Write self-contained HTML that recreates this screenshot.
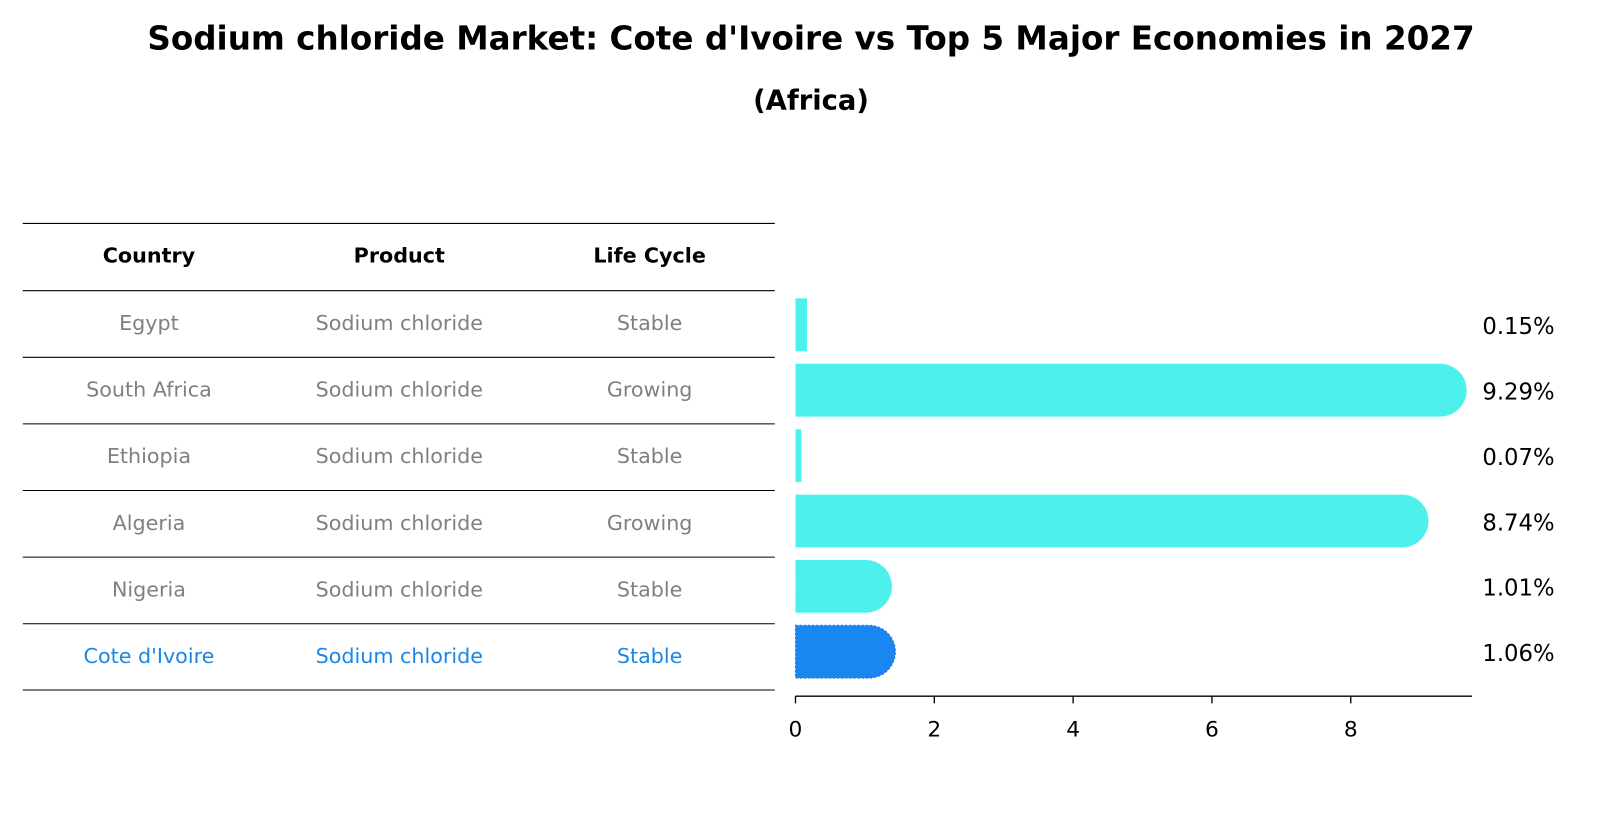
<!DOCTYPE html>
<html><head><meta charset="utf-8"><style>
body{margin:0;background:#fff;}
#wrap{position:relative;width:1622px;height:823px;overflow:hidden;}
</style></head><body>
<div id="wrap">
<svg id="svg" width="1622" height="823" viewBox="0 0 1568 795.6" preserveAspectRatio="none" style="position:absolute;left:0;top:0"></svg>
</div>
<script>
const countries=["Egypt","South Africa","Ethiopia","Algeria","Nigeria","Cote d'Ivoire"];
const products=["Sodium chloride","Sodium chloride","Sodium chloride","Sodium chloride","Sodium chloride","Sodium chloride"];
const lifeCycles=["Stable","Growing","Stable","Growing","Stable","Stable"];
const values=[0.15,9.29,0.07,8.74,1.01,1.06];
const valueLabels=["0.15%","9.29%","0.07%","8.74%","1.01%","1.06%"];
const ticks=[0,2,4,6,8];
const NS="http://www.w3.org/2000/svg";
const svg=document.getElementById('svg');
function mk(tag,attrs,parent){const e=document.createElementNS(NS,tag);for(const k in attrs)e.setAttribute(k,attrs[k]);(parent||svg).appendChild(e);return e;}
const x0=769,ppu=67.1;
function xs(v){return x0+v*ppu;}
function ys(i){return 314+i*63.2;}
const font="'DejaVu Sans',sans-serif";
let t=mk('text',{x:784,y:48,'text-anchor':'middle','font-size':31.5,'font-weight':'bold','font-family':font});
t.textContent="Sodium chloride Market: Cote d'Ivoire vs Top 5 Major Economies in 2027";


t=mk('text',{x:784,y:106,'text-anchor':'middle','font-size':26.5,'font-weight':'bold','font-family':font});
t.textContent="(Africa)";


// table
const colX=[144,386,628];
let l=mk('line',{x1:22,x2:749,y1:216,y2:216,stroke:'#000','stroke-width':1});


["Country","Product","Life Cycle"].forEach((h,j)=>{
 const tt=mk('text',{x:colX[j],y:254,'text-anchor':'middle','font-size':20,'font-weight':'bold','font-family':font});
 tt.textContent=h;
 
 
});
for(let i=0;i<countries.length;i++){
 const y=281+i*64.4;
 const ln=mk('line',{x1:22,x2:749,y1:y,y2:y,stroke:'#000','stroke-width':1});
 
 
 const col=i===countries.length-1?'#1a87e8':'#808080';
 [countries[i],products[i],lifeCycles[i]].forEach((c,j)=>{
  const tt=mk('text',{x:colX[j],y:y+38,'text-anchor':'middle','font-size':20,fill:col,'font-family':font});
  tt.textContent=c;
  
  
 });
}
l=mk('line',{x1:22,x2:749,y1:667,y2:667,stroke:'#000','stroke-width':1});


// bars
const h=51,r=25.5;
values.forEach((v,i)=>{
 const yc=ys(i),xe=xs(v);
 const last=i===values.length-1;
 const col=last?'#1a87f0':'#4ef0ec';
 let d;
 if(v<0.5){d=`M${x0},${yc-h/2} H${xe+1} V${yc+h/2} H${x0} Z`;}
 else{d=`M${x0},${yc-h/2} H${xe} A${r},${r} 0 0 1 ${xe},${yc+h/2} H${x0} Z`;}
 const p=mk('path',{d:d,fill:col});
 if(last){p.setAttribute('stroke','#3070d0');p.setAttribute('stroke-dasharray','2,2');p.setAttribute('stroke-width','1');}
 
 
 const tt=mk('text',{x:1433,y:yc+9,'font-size':22,'font-family':font});
 tt.textContent=valueLabels[i];
 
 
});
// axis
l=mk('line',{x1:x0,x2:1423,y1:673,y2:673,stroke:'#000','stroke-width':1.3});


ticks.forEach(v=>{
 const tk=mk('line',{x1:xs(v),x2:xs(v),y1:673,y2:680,stroke:'#000','stroke-width':1.3});
 
 
 const tt=mk('text',{x:xs(v),y:712,'text-anchor':'middle','font-size':21,'font-family':font});
 tt.textContent=v;
 
 
});
</script>
</body></html>
